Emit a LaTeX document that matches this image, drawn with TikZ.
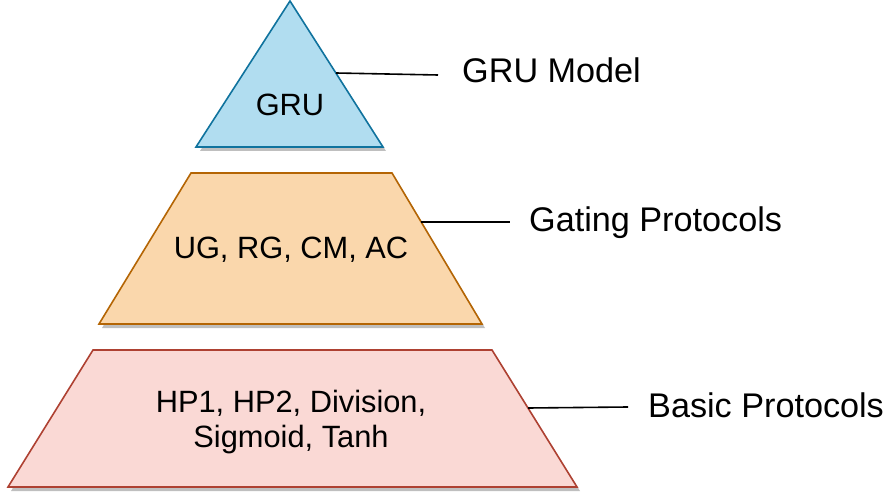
\documentclass[tikz,border=0pt]{standalone}
\usepackage{fontspec}
\setmainfont{Liberation Sans}
\definecolor{gruFill}{HTML}{B1DDF0}
\definecolor{gruLine}{HTML}{10739E}
\definecolor{gateFill}{HTML}{FAD7AC}
\definecolor{gateLine}{HTML}{B46504}
\definecolor{baseFill}{HTML}{FAD9D5}
\definecolor{baseLine}{HTML}{AE4132}
\tikzset{
  layer/.style={line width=1.6pt, line join=miter},
  layershadow/.style={fill=black!25, draw=none},
  inner/.style={font=\fontsize{30.8}{35}\selectfont, align=center},
  label/.style={font=\fontsize{34.2}{40}\selectfont, anchor=west, inner sep=0pt},
  leader/.style={line width=1.6pt, black}
}
\begin{document}
\begin{tikzpicture}[x=1pt,y=-1pt]
    \useasboundingbox (0,0) rectangle (888,494);

    % shadows
    \fill[layershadow] (200,151) -- (293,5) -- (386,151) -- cycle;
    \fill[layershadow] (194,177) -- (395,177) -- (485,328) -- (102,328) -- cycle;
    \fill[layershadow] (96,354) -- (495,354) -- (580,491) -- (11,491) -- cycle;

    % top triangle
    \draw[layer, draw=gruLine, fill=gruFill] (196,147) -- (290,1) -- (383,147) -- cycle;
    % middle trapezoid
    \draw[layer, draw=gateLine, fill=gateFill] (191,173) -- (392,173) -- (482,324) -- (99,324) -- cycle;
    % bottom trapezoid
    \draw[layer, draw=baseLine, fill=baseFill] (93,350) -- (492,350) -- (577,487) -- (8,487) -- cycle;

    % layer texts
    \node[inner] (gru) at (290,105) {GRU};
    \node[inner] (gate) at (291,250) {UG, RG, CM, AC};
    \node[inner] (base) at (291,422) {HP1, HP2, Division,\\Sigmoid, Tanh};

    % side labels
    \node[label] (grulabel) at (462,70) {GRU Model};
    \node[label] (gatelabel) at (529,223) {Gating Protocols};
    \node[label] (baselabel) at (648,405) {Basic Protocols};

    % leader lines
    \coordinate (gruedge) at (336,73);
    \coordinate (gruend) at (438,75);
    \coordinate (gateedge) at (421,222);
    \coordinate (gateend) at (510,222);
    \coordinate (baseedge) at (528,408);
    \coordinate (baseend) at (628,407);
    \draw[leader] (gruedge) -- (gruend);
    \draw[leader] (gateedge) -- (gateend);
    \draw[leader] (baseedge) -- (baseend);
  \end{tikzpicture}
\end{document}
